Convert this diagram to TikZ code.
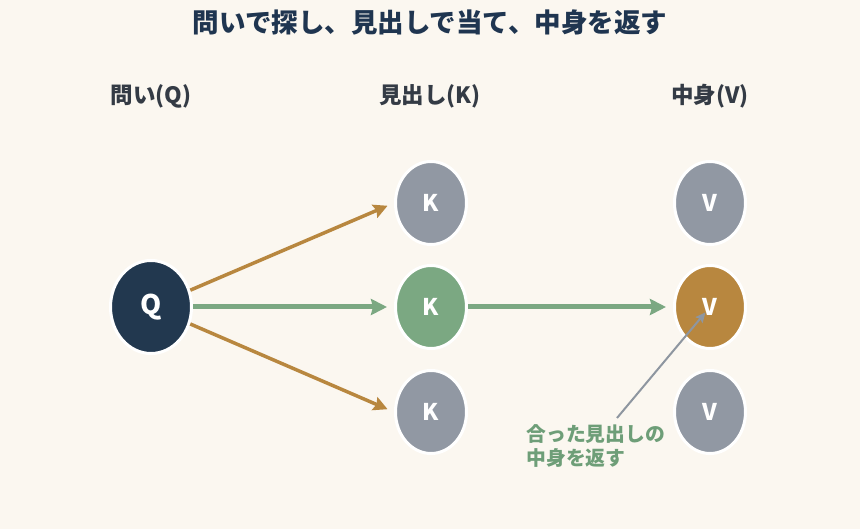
\documentclass[tikz,border=0pt]{standalone}
\usepackage{fontspec}
\setmainfont{Noto Sans CJK JP}
\usetikzlibrary{arrows.meta, positioning, shapes.geometric}

\definecolor{paper}{HTML}{FBF7F0}
\definecolor{titleblue}{HTML}{1F3550}
\definecolor{headgray}{HTML}{343B45}
\definecolor{querynavy}{HTML}{22384F}
\definecolor{idlegray}{HTML}{9198A3}
\definecolor{matchgreen}{HTML}{7BA882}
\definecolor{valuebrown}{HTML}{B8873F}
\definecolor{notegreen}{HTML}{6E9E78}
\definecolor{pointgray}{HTML}{8E96A0}

\begin{document}
\begin{tikzpicture}[
    x=1pt, y=-1pt,
    node distance=18pt and 201pt,
    query/.style={ellipse, draw=white, line width=3pt, fill=querynavy, minimum width=81pt, minimum height=93pt, text=white, font=\bfseries\fontsize{27}{27}\selectfont},
    slot/.style={ellipse, draw=white, line width=3pt, fill=idlegray, minimum width=71pt, minimum height=83pt, text=white, font=\bfseries\fontsize{23}{23}\selectfont},
    hitkey/.style={slot, fill=matchgreen},
    hitvalue/.style={slot, fill=valuebrown},
    header/.style={text=headgray, font=\bfseries\fontsize{22.5}{26}\selectfont},
    score/.style={-{Stealth[length=14pt, width=14pt, inset=2pt]}, line width=3.5pt, draw=valuebrown, shorten >=7pt},
    match/.style={-{Stealth[length=16pt, width=16pt, inset=2pt]}, line width=5pt, draw=matchgreen, shorten >=7pt},
    pointer/.style={-{Stealth[length=10pt, width=9pt, inset=1.5pt]}, line width=2pt, draw=pointgray, shorten >=7pt}
]
\useasboundingbox[fill=paper] (0,0) rectangle (860,529);

% Title and column headers
\node[text=titleblue, font=\bfseries\fontsize{26.5}{30}\selectfont] (T) at (430,22) {問いで探し、見出しで当て、中身を返す};
\node[header] (HQ) at (151,96) {問い(Q)};
\node[header] (HK) at (430,96) {見出し(K)};
\node[header] (HV) at (710,96) {中身(V)};

% Query
\node[query] (Q) at (151,307) {Q};

% Keys
\node[hitkey, right=of Q] (K2) {K};
\node[slot, above=of K2] (K1) {K};
\node[slot, below=19pt of K2] (K3) {K};

% Values
\node[hitvalue, right=205pt of K2] (V2) {V};
\node[slot, above=of V2] (V1) {V};
\node[slot, below=19pt of V2] (V3) {V};

% Arrows
\draw[score] (Q) -- (K1.west);
\draw[score] (Q) -- (K3.west);
\draw[match] (Q) -- (K2);
\draw[match] (K2) -- (V2);

% Note
\node[text=notegreen, align=left, anchor=west, font=\bfseries\fontsize{19.8}{24}\selectfont] (N) at (523,446) {合った見出しの\\中身を返す};
\coordinate (NP) at (617,418);
\draw[pointer] (NP) -- (V2.center);

\end{tikzpicture}
\end{document}
